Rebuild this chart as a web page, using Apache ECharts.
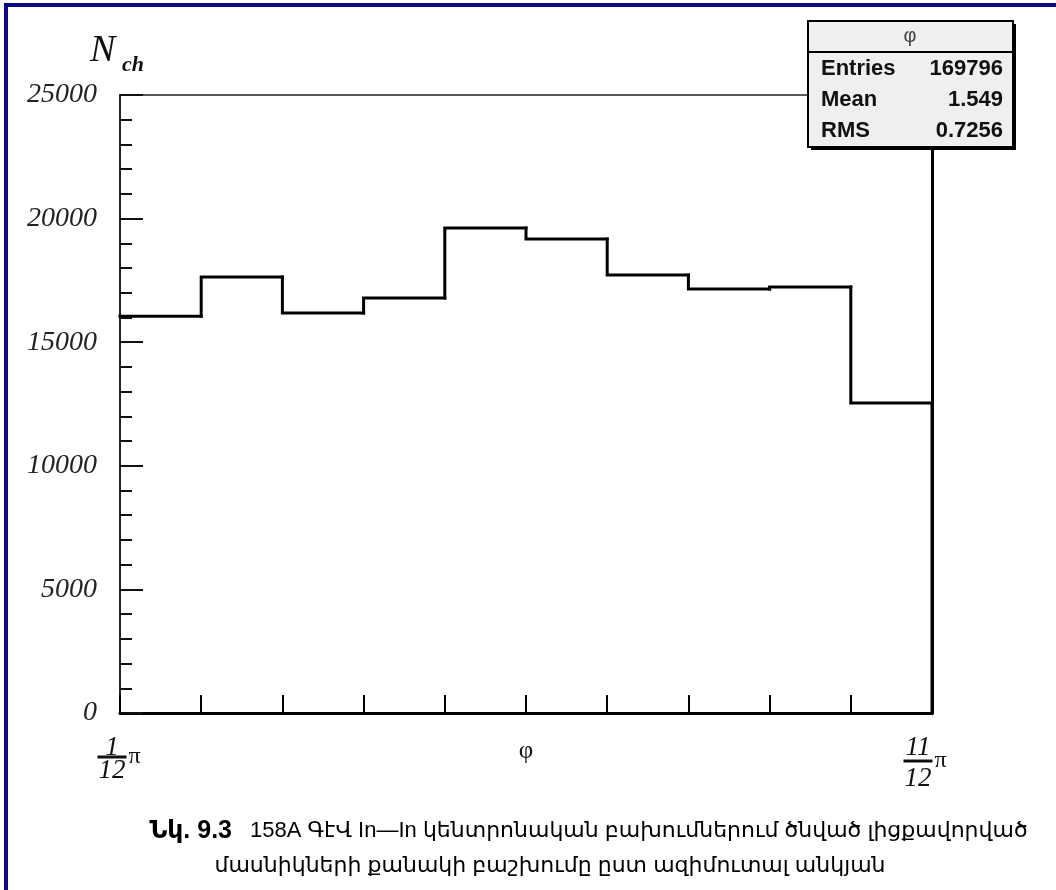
<!DOCTYPE html>
<html>
<head>
<meta charset="utf-8">
<script src="https://cdn.jsdelivr.net/npm/echarts@6/dist/echarts.min.js"></script>
<style>
html,body{margin:0;padding:0;background:#fff;}
#chart{width:1056px;height:890px;}
</style>
</head>
<body>
<div id="chart"></div>
<script>
// ---- data ----
const binCounts = [16050, 17640, 16180, 16790, 19620, 19170, 17720, 17150, 17230, 12540];
const yTickValues = [0, 5000, 10000, 15000, 20000, 25000];
const xEdgeNumerators = ['1', '11'];
const xEdgeDenominator = '12';
const xAxisTitle = 'φ';
const yTitleMain = 'N';
const yTitleSub = 'ch';
const statsTitle = 'φ';
const statsLabels = ['Entries', 'Mean', 'RMS'];
const statsValues = ['169796', '1.549', '0.7256'];
const captionNumber = 'Նկ. 9.3';
const captionLines = [
  '158A ԳէՎ In—In կենտրոնական բախումներում ծնված լիցքավորված',
  'մասնիկների քանակի բաշխումը ըստ ազիմուտալ անկյան'
];

// one item per bin: [left edge index, count, previous bin count]
const histItems = binCounts.map((v, i) => [i, v, i > 0 ? binCounts[i - 1] : v]);

const serif = '"Liberation Serif", "DejaVu Serif", serif';
const sans = '"Liberation Sans", "DejaVu Sans", sans-serif';

const chart = echarts.init(document.getElementById('chart'), null, {renderer: 'canvas'});

const statsRowY = [69, 100, 131];
const statsGraphics = [
  {type: 'rect', shape: {x: 811, y: 24, width: 205, height: 126}, style: {fill: '#000'}, z: 100},
  {type: 'rect', shape: {x: 808, y: 21, width: 205, height: 126}, style: {fill: '#efefef', stroke: '#000', lineWidth: 2}, z: 101},
  {type: 'line', shape: {x1: 808, y1: 52, x2: 1013, y2: 52}, style: {stroke: '#000', lineWidth: 2}, z: 102},
  {type: 'text', x: 910, y: 36, z: 102, style: {text: statsTitle, font: '20px ' + sans, fill: '#444', align: 'center', verticalAlign: 'middle'}}
];
statsLabels.forEach((lab, i) => {
  statsGraphics.push({type: 'text', x: 821, y: statsRowY[i], z: 102,
    style: {text: lab, font: 'bold 22px ' + sans, fill: '#111', align: 'left', verticalAlign: 'middle'}});
  statsGraphics.push({type: 'text', x: 1003, y: statsRowY[i], z: 102,
    style: {text: statsValues[i], font: 'bold 22px ' + sans, fill: '#111', align: 'right', verticalAlign: 'middle'}});
});

const fracRich = {
  n: {fontFamily: serif, fontStyle: 'italic', fontSize: 27, color: '#111', width: 29, align: 'center', lineHeight: 14},
  d: {fontFamily: serif, fontStyle: 'italic', fontSize: 27, color: '#111', width: 29, align: 'center', lineHeight: 24},
  bar: {width: 29, height: 3, lineHeight: 4, backgroundColor: '#111', align: 'center'},
  pi: {fontFamily: serif, fontSize: 24, color: '#111', width: 16, align: 'center', lineHeight: 4},
  sp: {width: 16, align: 'center'},
  r: {width: 12, align: 'center'}
};

function xLabel(value) {
  if (value === 0) {
    return '{n|' + xEdgeNumerators[0] + '}{sp|}\n{bar|}{pi|π}\n{d|' + xEdgeDenominator + '}{sp|}';
  }
  if (value === binCounts.length) {
    return '{n|' + xEdgeNumerators[1] + '}{sp|}{r|}\n{bar|}{pi|π}{r|}\n{d|' + xEdgeDenominator + '}{sp|}{r|}';
  }
  return '';
}

function renderBin(params, api) {
  const i = api.value(0), v = api.value(1), prev = api.value(2);
  const pts = [api.coord([i, prev]), api.coord([i, v]), api.coord([i + 1, v])];
  if (params.dataIndex === binCounts.length - 1) {
    pts.push(api.coord([i + 1, 0]));
  }
  return {
    type: 'polyline',
    shape: {points: pts},
    style: {stroke: '#000', lineWidth: 3, fill: null, lineCap: 'square', lineJoin: 'miter'}
  };
}

const option = {
  backgroundColor: '#ffffff',
  animation: false,
  grid: {left: 120, right: 124, top: 95, bottom: 177, show: true, borderColor: '#222', borderWidth: 1.5, containLabel: false, outerBoundsMode: 'none'},
  xAxis: {
    type: 'value', min: 0, max: binCounts.length, interval: 1,
    name: xAxisTitle, nameLocation: 'middle', nameGap: 26, nameMoveOverlap: false,
    nameTextStyle: {fontFamily: serif, fontSize: 25, color: '#111', verticalAlign: 'top'},
    axisLine: {show: true, onZero: false, lineStyle: {color: '#000', width: 3}},
    axisTick: {show: true, inside: true, length: 18, lineStyle: {color: '#000', width: 2}},
    axisLabel: {show: true, margin: 28, formatter: xLabel, rich: fracRich},
    splitLine: {show: false}
  },
  yAxis: [{
    type: 'value', min: yTickValues[0], max: yTickValues[yTickValues.length - 1], interval: 5000,
    axisLine: {show: true, lineStyle: {color: '#222', width: 2}},
    axisTick: {show: true, inside: true, length: 23, lineStyle: {color: '#111', width: 2}},
    minorTick: {show: true, splitNumber: 5, length: 12, lineStyle: {color: '#111', width: 2}},
    axisLabel: {show: true, margin: 23, fontFamily: serif, fontStyle: 'italic', fontSize: 28, color: '#222',
      formatter: v => String(v)},
    splitLine: {show: false}, minorSplitLine: {show: false}
  }, {
    type: 'value', position: 'right', min: yTickValues[0], max: yTickValues[yTickValues.length - 1],
    axisLine: {show: true, lineStyle: {color: '#000', width: 3}},
    axisTick: {show: false}, axisLabel: {show: false}, splitLine: {show: false}
  }],
  series: [{
    type: 'custom', data: histItems, renderItem: renderBin, z: 5, clip: false,
    encode: {x: 0, y: 1}
  }],
  graphic: [
    {type: 'rect', shape: {x: 4, y: 3, width: 4, height: 887}, style: {fill: '#0a0a85'}, z: 100},
    {type: 'rect', shape: {x: 4, y: 3, width: 1052, height: 4}, style: {fill: '#0a0a85'}, z: 100},
    {type: 'text', x: 90, y: 51, z: 100, style: {text: yTitleMain, font: 'italic 38px ' + serif, fill: '#111', align: 'left', verticalAlign: 'middle'}},
    {type: 'text', x: 122, y: 65, z: 100, style: {text: yTitleSub, font: 'italic bold 22px ' + serif, fill: '#111', align: 'left', verticalAlign: 'middle'}},
    ...statsGraphics,
    {type: 'text', x: 232, y: 831, z: 100, style: {text: captionNumber, font: 'bold 25px ' + sans, fill: '#000', align: 'right', verticalAlign: 'middle'}},
    {type: 'text', x: 250, y: 831, z: 100, style: {text: captionLines[0], font: '22px ' + sans, fill: '#000', align: 'left', verticalAlign: 'middle'}},
    {type: 'text', x: 550, y: 866, z: 100, style: {text: captionLines[1], font: '22px ' + sans, fill: '#000', align: 'center', verticalAlign: 'middle'}}
  ]
};
chart.setOption(option);
</script>
</body>
</html>
